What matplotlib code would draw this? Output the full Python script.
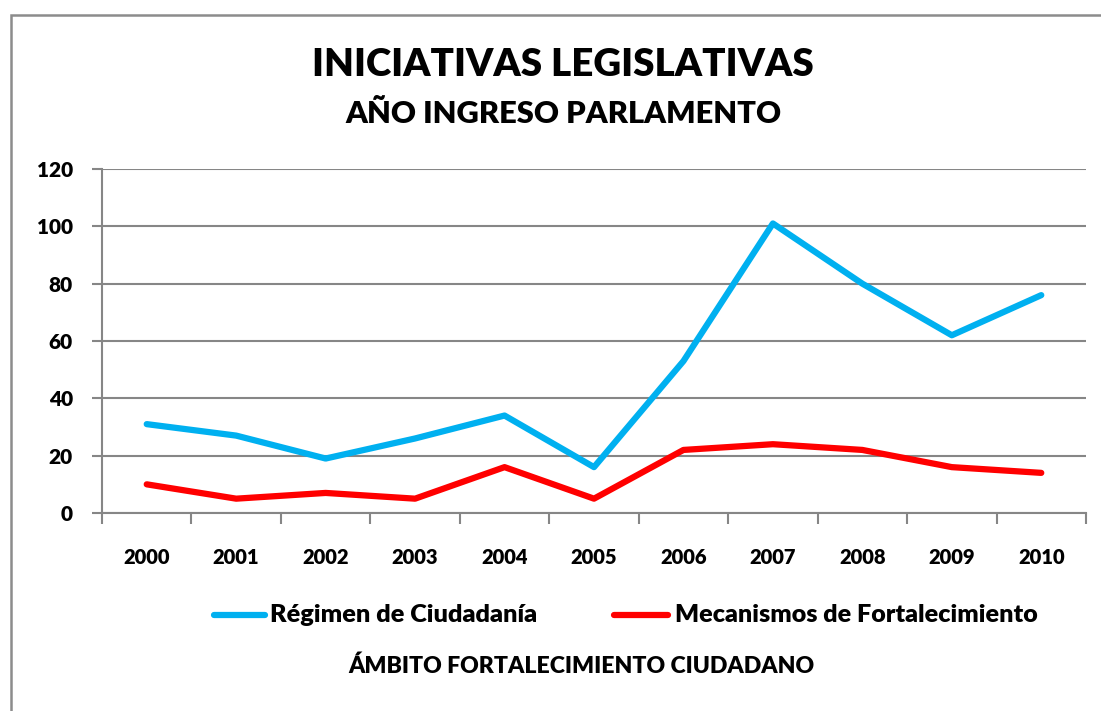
import matplotlib
matplotlib.use("Agg")
import matplotlib.pyplot as plt
from matplotlib.patches import Rectangle
from matplotlib.lines import Line2D
import numpy as np

years = ["2000", "2001", "2002", "2003", "2004", "2005", "2006", "2007", "2008", "2009", "2010"]
regimen = [31, 27, 19, 26, 34, 16, 53, 101, 80, 62, 76]
mecanismos = [10, 5, 7, 5, 16, 5, 22, 24, 22, 16, 14]
yticks = [0, 20, 40, 60, 80, 100, 120]

plt.rcParams['font.family'] = ['Lato', 'DejaVu Sans']
WT = 'heavy'

W, H = 1101, 711
fig = plt.figure(figsize=(W / 100, H / 100), dpi=100)

# outer chart border (top and left visible)
fig.patches.append(Rectangle((11 / W, -0.1), 1.2, 1 - 15 / H + 0.1, transform=fig.transFigure,
                             fill=False, edgecolor='#8c8c8c', linewidth=1.8))

ax = fig.add_axes([102 / W, 1 - 513 / H, (1086 - 102) / W, (513 - 169) / H])
x = np.arange(len(years))
grid_c = '#868686'
ax.set_xlim(-0.5, len(years) - 0.5)
ax.set_ylim(0, 120)
ax.set_yticks(yticks)
ax.set_yticklabels([str(v) for v in yticks], fontsize=15, fontweight=WT)
ax.yaxis.grid(True, color=grid_c, linewidth=1.5)
ax.set_axisbelow(True)
ax.set_xticks(x)
ax.set_xticklabels(years, fontsize=14.5, fontweight=WT)
ax.set_xticks(np.arange(-0.5, len(years)), minor=True)
ax.tick_params(axis='x', which='major', length=0, pad=25)
ax.tick_params(axis='x', which='minor', length=8, width=1.5, color=grid_c, direction='out')
ax.tick_params(axis='y', length=7, width=1.5, color=grid_c, pad=14)
for s in ['top', 'right']:
    ax.spines[s].set_visible(False)
for s in ['left', 'bottom']:
    ax.spines[s].set_color(grid_c)
    ax.spines[s].set_linewidth(1.5)

blue = '#00b0f0'
red = '#ff0000'
ax.plot(x, regimen, color=blue, linewidth=4.5, solid_capstyle='round', solid_joinstyle='round', clip_on=False)
ax.plot(x, mecanismos, color=red, linewidth=4.5, solid_capstyle='round', solid_joinstyle='round', clip_on=False)

fig.text(563 / W, 1 - 65 / H, "INICIATIVAS LEGISLATIVAS", ha='center', va='center',
         fontsize=27.7, fontweight=WT)
fig.text(563 / W, 1 - 114 / H, "AÑO INGRESO PARLAMENTO", ha='center', va='center',
         fontsize=22.2, fontweight=WT)

# legend
ly = 1 - 615 / H
fig.lines.append(Line2D([214 / W, 265 / W], [ly, ly], transform=fig.transFigure, color=blue,
                        linewidth=4.5, solid_capstyle='round'))
fig.text(270 / W, ly, "Régimen de Ciudadanía", ha='left', va='center', fontsize=18.2, fontweight=WT)
fig.lines.append(Line2D([614 / W, 668 / W], [ly, ly], transform=fig.transFigure, color=red,
                        linewidth=4.5, solid_capstyle='round'))
fig.text(675 / W, ly, "Mecanismos de Fortalecimiento", ha='left', va='center', fontsize=18.1, fontweight=WT)

fig.text(581 / W, 1 - 666 / H, "ÁMBITO FORTALECIMIENTO CIUDADANO", ha='center', va='center',
         fontsize=16.6, fontweight=WT)

fig.savefig("out.png", dpi=100)
